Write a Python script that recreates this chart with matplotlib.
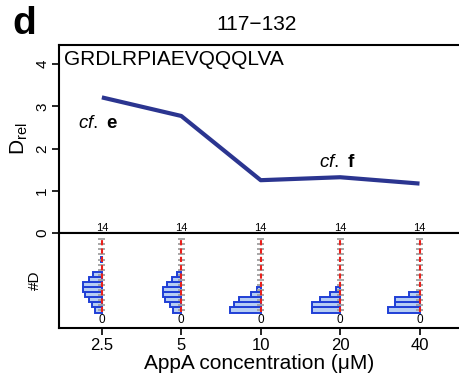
import matplotlib
matplotlib.use("Agg")
import matplotlib.pyplot as plt
import numpy as np

plt.rcParams['font.family'] = ['Liberation Sans', 'DejaVu Sans']
plt.rcParams['mathtext.fontset'] = 'custom'
plt.rcParams['mathtext.rm'] = 'Liberation Sans'
plt.rcParams['mathtext.it'] = 'Liberation Sans:italic'
plt.rcParams['mathtext.bf'] = 'Liberation Sans:bold'

# ---- data ----
concentrations = ["2.5", "5", "10", "20", "40"]
d_rel = [3.21, 2.77, 1.25, 1.32, 1.17]
peptide = "GRDLRPIAEVQQQLVA"
title = "117\u2212132"
max_d = 14
# histogram of deuteration level (#D = 0, 1, 2, ...), relative counts
hist_2_5 = [7.0, 9.5, 13.0, 16.5, 19.0, 19.0, 13.0, 8.5, 0.0, 0.0, 1.0]
hist_5 = [8.5, 11.0, 15.7, 18.0, 18.0, 14.5, 9.0, 4.0]
hist_10 = [30.0, 26.7, 21.7, 10.0, 4.0]
hist_20 = [27.5, 27.5, 20.0, 10.0, 4.2]
hist_40 = [31.5, 24.0, 24.0, 10.5]
hists = [hist_2_5, hist_5, hist_10, hist_20, hist_40]

W, H = 460, 374
fig = plt.figure(figsize=(W / 100, H / 100), dpi=100)

def fx(px):
    return px / W

def fy(py):
    return 1 - py / H

left, right = fx(59), 1.0
ax = fig.add_axes([left, fy(233), right - left, fy(45) - fy(233)])
axb = fig.add_axes([left, fy(328), right - left, fy(233) - fy(328)], sharex=ax)

pos = np.arange(len(concentrations))
ax.set_xlim(-0.54, 4.51)
ax.set_ylim(0, 4.45)

ax.plot(pos, d_rel, color='#2b3590', lw=3.0, solid_capstyle='butt', zorder=3)

for a in (ax, axb):
    for s in a.spines.values():
        s.set_linewidth(1.5)
    a.spines['right'].set_visible(False)

ax.set_yticks([0, 1, 2, 3, 4])
ax.tick_params(axis='y', labelrotation=90, labelsize=11, width=1.2, length=5, pad=2)
ax.tick_params(axis='x', bottom=False, labelbottom=False)
for lab in ax.get_yticklabels():
    lab.set_va('center')
ax.set_ylabel(r'D$_{\mathregular{rel}}$', fontsize=15, labelpad=4)

ax.text(0.012, 0.925, peptide, transform=ax.transAxes, fontsize=15, va='center', ha='left')
ax.text(-0.3, 2.6, r'$\mathit{cf.}$ $\mathbf{e}$', fontsize=13.5, ha='left', va='center')
ax.text(2.73, 1.68, r'$\mathit{cf.}$ $\mathbf{f}$', fontsize=13.5, ha='left', va='center')

fig.text(fx(257), fy(24), title, fontsize=15, ha='center', va='center')
fig.text(fx(12), fy(24), 'd', fontsize=28, fontweight='bold', ha='left', va='center')

# ---- bottom histogram panel ----
axb.set_ylim(-3.56, 15.25)
axb.set_yticks([])
axb.set_ylabel('#D', fontsize=11, labelpad=12)
scale = 0.40 / 31.5
levels = np.arange(max_d + 1)
for i, h in enumerate(hists):
    h = np.asarray(h)
    lv = np.arange(len(h))
    mask = h > 0
    widths = h[mask] * scale
    axb.barh(lv[mask], widths, left=pos[i] - widths, height=1.0,
             color='#b6cdf3', edgecolor='#1f3fd6', linewidth=1.4, zorder=2)
    for lvl in levels:
        axb.plot([pos[i] - 0.045, pos[i] + 0.045], [lvl, lvl], color='#a0a0a0',
                 lw=1.3, zorder=3, solid_capstyle='butt')
    axb.plot([pos[i], pos[i]], [-0.3, max_d + 0.3], color='#e8201c', lw=1.5,
             ls=(0, (2.5, 1.5)), zorder=4)
    axb.text(pos[i], max_d + 2.3, str(max_d), fontsize=8, ha='center', va='center',
             clip_on=False)
    axb.text(pos[i], -2.0, '0', fontsize=8.5, ha='center', va='center')

axb.set_xticks(pos)
axb.set_xticklabels(concentrations)
axb.tick_params(axis='x', labelsize=12, width=1.2, length=5, pad=2)
axb.set_xlabel('AppA concentration (\u03bcM)', fontsize=15, labelpad=1)

fig.savefig('out.png', dpi=100)
